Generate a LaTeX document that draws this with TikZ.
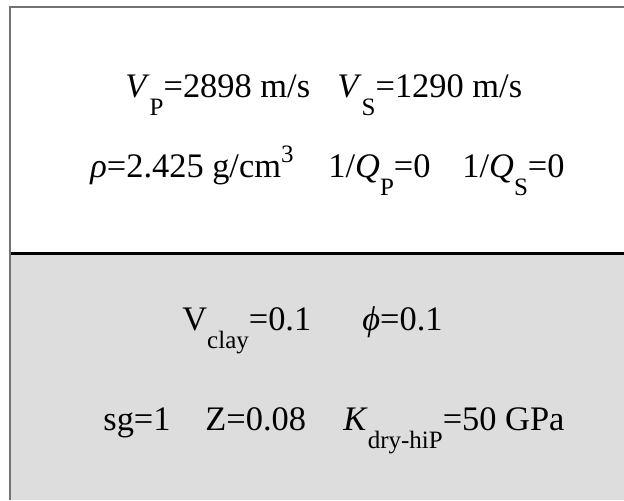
\documentclass[tikz,border=0pt]{standalone}
\usepackage{fontspec}
\setmainfont{Liberation Serif}
\usetikzlibrary{positioning}

\definecolor{soilgray}{HTML}{DDDDDD}
\newcommand\dn[1]{\raisebox{-9pt}{\fontsize{12.5}{12.5}\selectfont #1}}
\newcommand\up[1]{\raisebox{7.5pt}{\fontsize{12.5}{12.5}\selectfont #1}}

\begin{document}
\begin{tikzpicture}[x=0.5pt,y=-0.5pt,
  prop/.style={anchor=base west,inner sep=0pt,font=\fontsize{17.2}{20}\selectfont}]
  \useasboundingbox (0,0) rectangle (624,500);
  % layers
  \fill[soilgray] (11,255) rectangle (624,500);
  \draw[line width=1pt,black!55] (10,500) -- (10,6.5) -- (624,6.5);
  \draw[line width=1.5pt] (11,253.5) -- (624,253.5);
  % upper layer
  \node[prop] (vp) at (125,97) {\textit{V}\dn{P}=2898 m/s};
  \node[prop] (vs) at (337,97) {\textit{V}\dn{S}=1290 m/s};
  \node[prop] (rho) at (90,177) {\textit{ρ}=2.425 g/cm\up{3}};
  \node[prop] (qp) at (328,177) {1/\textit{Q}\dn{P}=0};
  \node[prop] (qs) at (462,177) {1/\textit{Q}\dn{S}=0};
  % lower layer
  \node[prop] (vclay) at (182,330) {V\dn{clay}=0.1};
  \node[prop] (phi) at (362,330) {\textit{ϕ}=0.1};
  \node[prop] (sg) at (103,430) {sg=1};
  \node[prop] (zz) at (205,430) {Z=0.08};
  \node[prop] (kdry) at (343,430) {\textit{K}\dn{dry-hiP}=50 GPa};
\end{tikzpicture}
\end{document}
